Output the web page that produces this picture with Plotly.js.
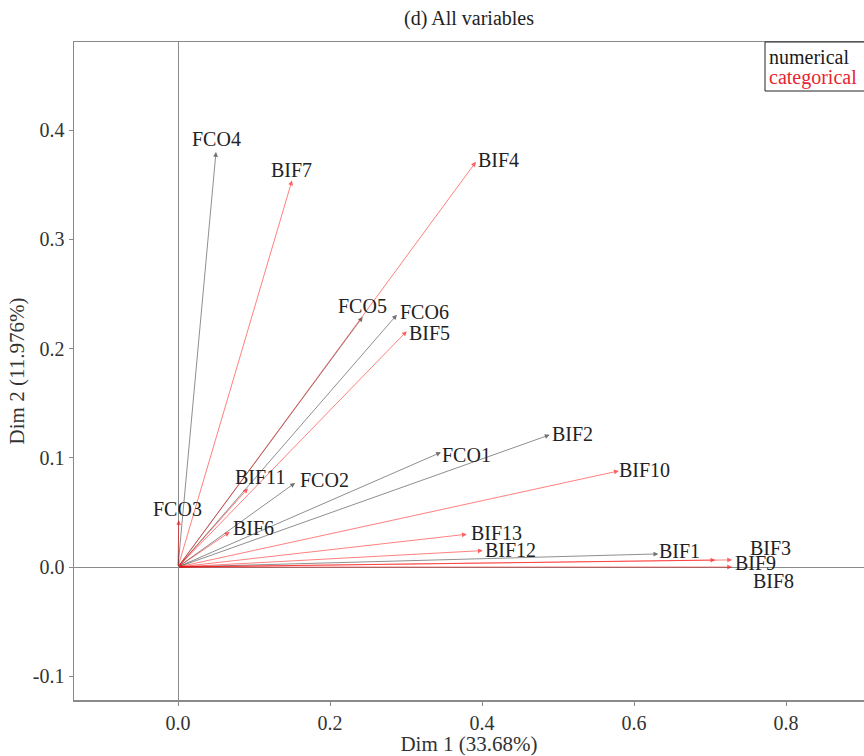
<!DOCTYPE html>
<html>
<head>
<meta charset="utf-8">
<script src="https://cdn.plot.ly/plotly-3.0.1.min.js"></script>
<style>html,body{margin:0;padding:0;background:#fff;}</style>
</head>
<body>
<div id="chart" style="width:864px;height:756px;"></div>
<script>
// ---- data ----
const varNames = ['FCO1','FCO2','FCO3','FCO4','FCO5','FCO6','BIF1','BIF2','BIF3','BIF4','BIF5','BIF6','BIF7','BIF8','BIF9','BIF10','BIF11','BIF12','BIF13'];
const dim1 = [0.346,0.154,0.001,0.050,0.243,0.288,0.632,0.489,0.729,0.392,0.301,0.068,0.150,0.729,0.707,0.580,0.092,0.401,0.380];
const dim2 = [0.105,0.077,0.043,0.380,0.229,0.231,0.012,0.121,0.0065,0.371,0.216,0.032,0.354,0.000,0.0064,0.088,0.072,0.015,0.030];
const varType = ['numerical','numerical','categorical','numerical','numerical','numerical','numerical','numerical','categorical','categorical','categorical','categorical','categorical','categorical','categorical','categorical','categorical','categorical','categorical'];
const xTickVals = [0.0,0.2,0.4,0.6,0.8];
const xTickText = ['0.0','0.2','0.4','0.6','0.8'];
const yTickVals = [-0.1,0.0,0.1,0.2,0.3,0.4];
const yTickText = ['-0.1','0.0','0.1','0.2','0.3','0.4'];
const legendLabels = ['numerical','categorical'];

// ---- label placement (pixel offsets from arrow tip) ----
const labelDx = [26,29,-1,0,0,28,21,23,38,23,23,24,-1,41,40,26,12,28,30];
const labelDy = [-3,3,11,13,11,3,3,1,12,2,-2,4,10,-14,-3,1,11,1,1];

const typeColor = {numerical:'rgba(40,40,40,0.65)', categorical:'rgba(255,0,0,0.62)'};
const legendColor = {numerical:'#1a1a1a', categorical:'#e8252f'};
const FONT = 'Liberation Serif, Times New Roman, serif';

const annotations = [];
varNames.forEach((n,i)=>{
  annotations.push({
    x: dim1[i], y: dim2[i], xref:'x', yref:'y',
    ax: 0, ay: 0, axref:'x', ayref:'y',
    text:'', showarrow:true, arrowhead:2, arrowsize:1.2, arrowwidth:0.8,
    arrowcolor: typeColor[varType[i]], standoff:0, startstandoff:0
  });
});
varNames.forEach((n,i)=>{
  annotations.push({
    x: dim1[i], y: dim2[i], xref:'x', yref:'y',
    text:n, showarrow:false, xanchor:'center', yanchor:'middle',
    xshift: labelDx[i], yshift: labelDy[i],
    font:{family:FONT, size:20, color:'#222'}
  });
});
// legend box texts
legendLabels.forEach((t,k)=>{
  annotations.push({
    xref:'paper', yref:'paper', x:(767-74)/790, y:1 - (2 + k*20)/658,
    xanchor:'left', yanchor:'top', text:t, showarrow:false,
    font:{family:FONT, size:20, color:legendColor[t]}
  });
});

const traces = [{
  x: dim1, y: dim2, type:'scatter', mode:'markers',
  marker:{size:1, color:'rgba(0,0,0,0)'}, hoverinfo:'skip', showlegend:false
}];

const layout = {
  width:864, height:756,
  margin:{l:74, r:0, t:42, b:56},
  paper_bgcolor:'#fff', plot_bgcolor:'#fff',
  font:{family:FONT, size:20, color:'#333'},
  showlegend:false,
  title:{text:'(d) All variables', x:(74+395)/864, xanchor:'center', y:1-18/756, yanchor:'middle',
         font:{family:FONT, size:20, color:'#222'}},
  xaxis:{
    range:[(74-178)/760, (864-178)/760],
    tickvals:xTickVals, ticktext:xTickText,
    showgrid:false, zeroline:true, zerolinecolor:'#8a8a8a', zerolinewidth:1,
    showline:true, linecolor:'#8a8a8a', linewidth:1.5, mirror:true,
    ticks:'outside', ticklen:4, tickcolor:'#8a8a8a',
    tickfont:{family:FONT, size:20, color:'#333'},
    title:{text:'Dim 1 (33.68%)', font:{family:FONT, size:21, color:'#333'}, standoff:6},
    automargin:false
  },
  yaxis:{
    range:[(567-700)/1092, (567-42)/1092],
    tickvals:yTickVals, ticktext:yTickText,
    showgrid:false, zeroline:true, zerolinecolor:'#8a8a8a', zerolinewidth:1,
    showline:true, linecolor:'#8a8a8a', linewidth:1.5, mirror:false,
    ticks:'outside', ticklen:4, tickcolor:'#8a8a8a',
    tickfont:{family:FONT, size:20, color:'#333'},
    title:{text:'Dim 2 (11.976%)', font:{family:FONT, size:21, color:'#333'}, standoff:2},
    automargin:false
  },
  annotations: annotations,
  shapes:[{
    type:'rect', xref:'paper', yref:'paper',
    x0:(765-74)/790, x1:(870-74)/790, y0:1-(91-42)/658, y1:1,
    line:{color:'#222', width:1}, fillcolor:'rgba(0,0,0,0)'
  }]
};

Plotly.newPlot('chart', traces, layout, {staticPlot:true});
</script>
</body>
</html>
